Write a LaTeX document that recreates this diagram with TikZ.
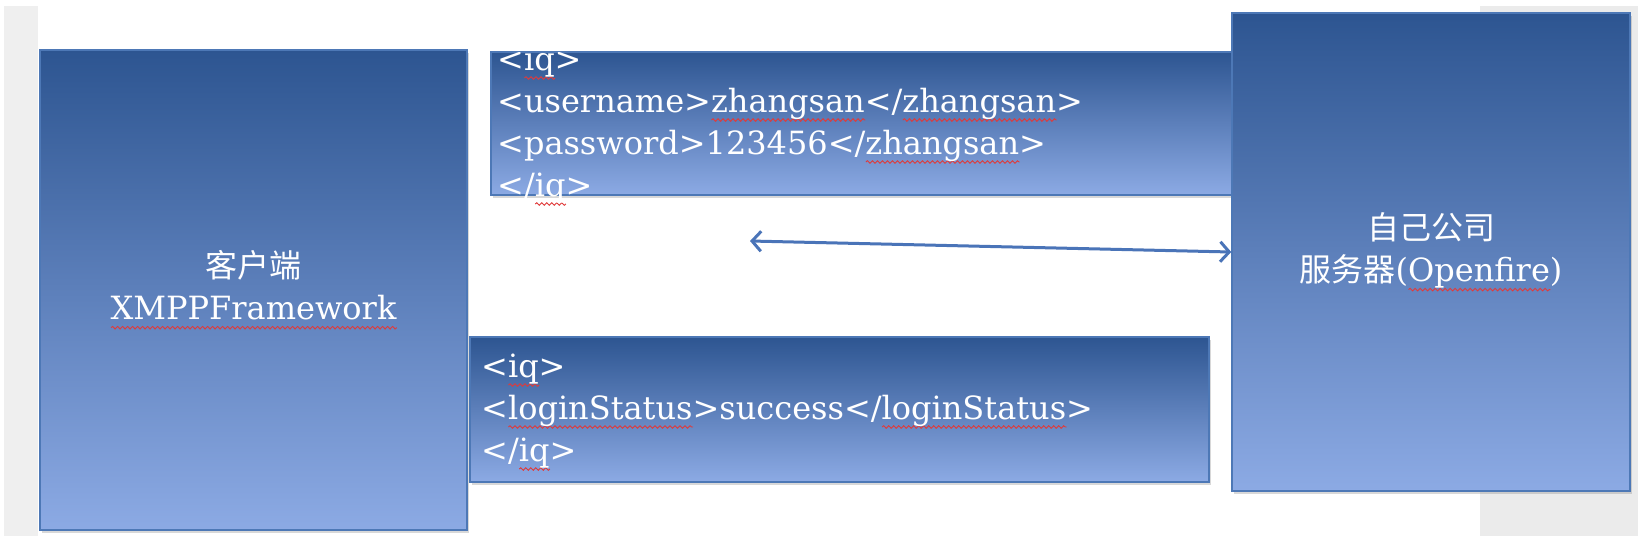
\documentclass[tikz,border=0pt]{standalone}
\usepackage{fontspec}
\setmainfont{DejaVu Serif}
\newfontfamily\cjk{Noto Sans CJK SC}
\usetikzlibrary{arrows.meta,shadows,decorations.pathmorphing}
\definecolor{boxtop}{HTML}{2D5591}
\definecolor{boxbot}{HTML}{8CAAE4}
\definecolor{boxline}{HTML}{4D78B6}
\definecolor{arrowblue}{HTML}{4A74B8}
\definecolor{squigred}{HTML}{E03A3A}
\definecolor{sidegray}{HTML}{EFEFEF}
\definecolor{pagegray}{HTML}{EBEBEB}
\newlength\squiglen
\newcommand\squig[1]{\settowidth\squiglen{#1}\rlap{\tikz[baseline=0pt]\draw[squigred, line width=0.9pt, decorate, decoration={snake, amplitude=1.3pt, segment length=5pt}] (0pt,-8pt) -- (\squiglen,-8pt);}#1}
\tikzset{
  bluebox/.style={draw=boxline, line width=1.5pt, top color=boxtop, bottom color=boxbot,
    inner sep=0pt, drop shadow={shadow xshift=2pt, shadow yshift=-3pt, opacity=0.3}},
  boxtext/.style={text=white, font=\fontsize{32}{42}\selectfont, inner sep=0pt},
  link/.style={draw=arrowblue, line width=3pt, {Straight Barb[length=9pt,width=20pt]}-{Straight Barb[length=9pt,width=20pt]}},
}

\begin{document}
\begin{tikzpicture}[x=1pt,y=-1pt]
			%%%%% START %%%%%
			\useasboundingbox (0,0) rectangle (1638,536);
			\fill[white] (0,0) rectangle (1638,536);
			\fill[sidegray] (4,6) rectangle (38,536);
			\fill[pagegray] (1480,6) rectangle (1638,536);
			
			% client and the two messages
			\node[bluebox, minimum width=427pt, minimum height=480pt] (client) at (253.5,290) {};
			\node[bluebox, minimum width=749pt, minimum height=143pt] (request) at (865.5,123.5) {};
			\node[bluebox, minimum width=739pt, minimum height=145pt] (response) at (839.5,409.5) {};
			
			% server
			\node[bluebox, minimum width=398pt, minimum height=478pt] (server) at (1431,252) {};
			
			\node[boxtext, align=center] (clientlabel) at (client.center) {{\cjk 客户端}\\\squig{XMPPFramework}};
			\node[boxtext, align=center] (serverlabel) at (server.center) {{\cjk 自己公司}\\{\cjk 服务器}(\squig{Openfire})};
			
			\begin{scope}
				\clip (0,52) rectangle (1638,536);
				\node[boxtext, anchor=base west, align=left] (requesttext) at (497,196)
					{<\squig{iq}>\\<username>\squig{zhangsan}</\squig{zhangsan}>\\<password>123456</\squig{zhangsan}>\\</\squig{iq}>};
			\end{scope}
			\node[boxtext, anchor=base west, align=left] (responsetext) at (481,461)
				{<\squig{iq}>\\<\squig{loginStatus}>success</\squig{loginStatus}>\\</\squig{iq}>};
			
			\coordinate (arrowtail) at (750,241);
			\draw[link] (arrowtail) -- (server.west);
			%%%%% END %%%%%
\end{tikzpicture}
\end{document}
